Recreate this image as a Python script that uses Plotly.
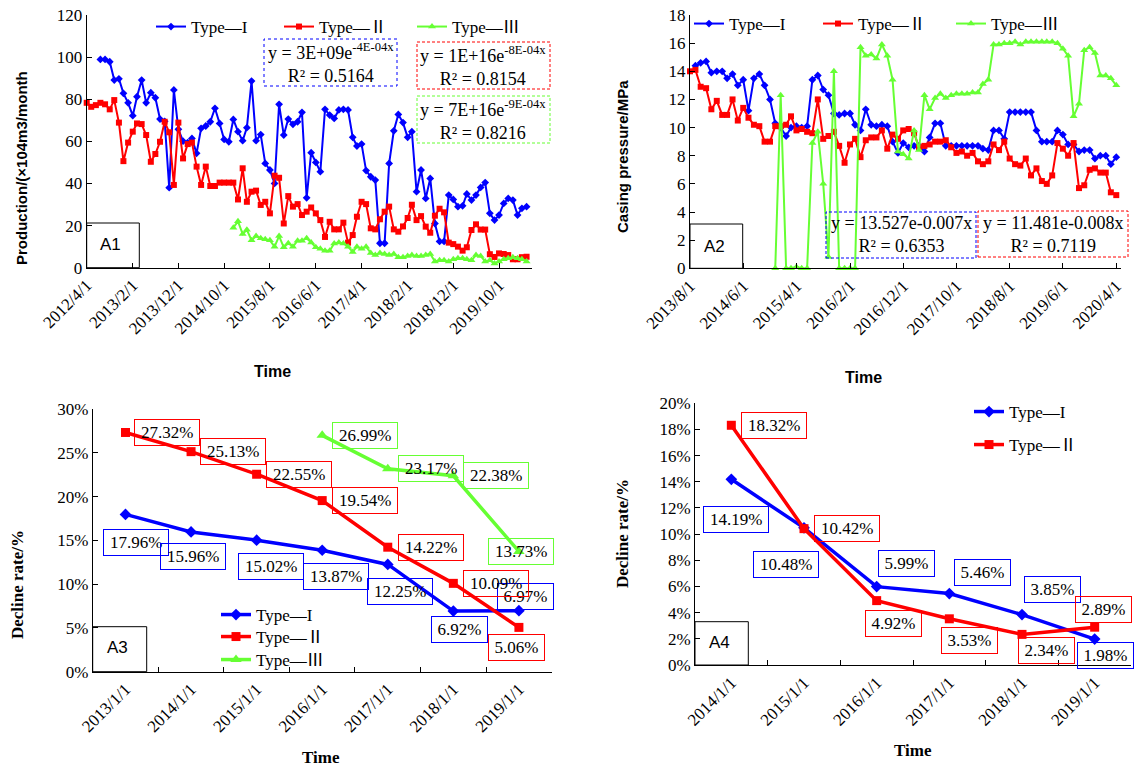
import pandas as pd
import plotly.graph_objects as go

BLUE = "#0000FF"
RED = "#FF0000"
GREEN = "#66FF33"
SERIF = "Liberation Serif, Times New Roman, Noto Sans CJK SC, serif"
SANS = "Liberation Sans, Arial, sans-serif"
W, H = 1136, 768

names = ["Type—I", "Type—Ⅱ", "Type—Ⅲ"]

# ---------------- A1: monthly production ----------------
a1_type1_start = "2012-07-01"
a1_type1 = [98.9, 98.9, 97.8, 89.1, 89.7, 82.8, 78.3, 72.2, 81.2, 89.1,
            78.3, 83.1, 80.7, 70.6, 69.5, 38.0, 84.4, 65.7, 60.1, 59.4,
            61.4, 54.3, 66.2, 67.3, 69.3, 75.7, 68.5, 60.9, 59.8, 70.4,
            64.6, 60.3, 66.5, 88.6, 60.3, 63.2, 49.5, 46.4, 40.0, 77.6,
            63.0, 70.6, 68.1, 69.3, 73.8, 33.2, 54.6, 50.0, 45.6, 75.2,
            72.5, 70.9, 74.9, 75.2, 74.9, 61.9, 57.8, 58.7, 46.1, 43.2,
            41.6, 11.6, 11.6, 49.5, 65.0, 72.8, 68.9, 61.9, 64.6, 36.1,
            46.4, 32.9, 42.4, 21.0, 12.5, 12.5, 34.5, 32.4, 29.0, 29.4,
            35.0, 32.1, 34.5, 38.1, 40.4, 25.8, 22.6, 25.0, 30.5, 32.9,
            32.1, 25.0, 28.2, 29.0]
a1_type2_start = "2012-04-01"
a1_type2 = [78.3, 76.4, 77.2, 78.3, 77.6, 75.2, 79.6, 68.9, 50.6, 59.4,
            64.6, 68.5, 68.2, 63.0, 50.3, 54.0, 59.8, 69.3, 64.3, 39.3,
            68.9, 51.9, 58.7, 59.4, 48.0, 39.3, 48.0, 38.8, 38.8, 40.4,
            40.4, 40.4, 40.4, 32.4, 47.2, 31.3, 36.1, 36.6, 29.8, 31.3,
            25.8, 43.7, 42.7, 21.0, 34.0, 29.0, 30.2, 25.0, 26.6, 28.6,
            25.8, 22.6, 14.6, 21.8, 18.2, 18.2, 21.4, 11.9, 15.5, 24.2,
            31.3, 30.2, 18.7, 18.2, 23.0, 26.6, 29.0, 18.2, 17.1, 19.6,
            23.6, 29.9, 22.6, 24.5, 19.5, 16.6, 24.7, 28.0, 26.3, 11.9,
            11.2, 10.0, 8.1, 9.7, 17.9, 20.6, 18.1, 18.1, 6.4, 5.1,
            6.8, 6.5, 6.0, 4.0, 4.0, 5.0, 5.2]
a1_type3_start = "2014-12-01"
a1_type3 = [19.0, 22.0, 16.0, 18.0, 13.0, 15.0, 14.0, 13.5, 13.0, 10.0,
            15.0, 9.7, 11.6, 10.0, 12.8, 12.8, 14.0, 12.0, 9.7, 9.0,
            8.0, 8.0, 11.5, 12.0, 11.5, 10.0, 7.5, 10.0, 9.0, 10.0,
            7.0, 6.0, 7.0, 6.5, 6.0, 6.5, 5.0, 5.0, 5.5, 6.0,
            5.5, 5.5, 6.0, 6.5, 3.0, 3.5, 3.5, 3.0, 4.0, 4.5,
            4.5, 4.0, 3.5, 6.0, 5.5, 3.0, 3.5, 2.0, 3.0, 4.0,
            4.5, 5.0, 4.5, 4.0, 3.0]
a1_tickvals = ["2012-04-01", "2013-02-01", "2013-12-01", "2014-10-01", "2015-08-01",
               "2016-06-01", "2017-04-01", "2018-02-01", "2018-12-01", "2019-10-01"]
a1_ticktext = ["2012/4/1", "2013/2/1", "2013/12/1", "2014/10/1", "2015/8/1",
               "2016/6/1", "2017/4/1", "2018/2/1", "2018/12/1", "2019/10/1"]
a1_range = ["2012-04-01", "2020-05-07"]
a1_fits = ["y = 3E+09e<sup>-4E-04x</sup><br>R² = 0.5164",
           "y = 1E+16e<sup>-8E-04x</sup><br>R² = 0.8154",
           "y = 7E+16e<sup>-9E-04x</sup><br>R² = 0.8216"]

# ---------------- A2: monthly casing pressure ----------------
a2_type1_start = "2013-09-01"
a2_type1 = [14.4, 14.6, 14.7, 13.9, 14.0, 14.0, 13.5, 13.8, 13.0, 13.4,
            11.2, 13.5, 13.8, 13.0, 12.0, 10.3, 10.0, 9.4, 10.0, 10.1,
            10.0, 10.1, 13.4, 13.7, 12.7, 12.3, 11.0, 10.9, 11.0, 11.0,
            10.2, 9.8, 11.3, 10.2, 10.1, 10.2, 10.1, 9.0, 8.2, 8.9,
            8.6, 8.7, 8.7, 8.3, 9.3, 10.3, 10.3, 8.7, 8.7, 8.7,
            8.7, 8.7, 8.7, 8.7, 8.5, 8.4, 9.8, 9.8, 9.2, 11.1,
            11.1, 11.1, 11.1, 11.1, 9.8, 9.0, 9.0, 9.0, 9.8, 9.5,
            8.8, 8.8, 8.3, 8.4, 8.4, 7.8, 8.0, 8.0, 7.4, 7.9]
a2_type2_start = "2013-08-01"
a2_type2 = [14.0, 14.1, 12.9, 12.8, 11.3, 11.9, 10.9, 10.9, 12.0, 10.5,
            11.4, 10.7, 10.2, 10.1, 9.0, 9.0, 10.1, 10.1, 10.2, 10.8,
            9.8, 9.9, 9.7, 9.6, 12.0, 9.2, 9.4, 9.7, 8.7, 7.5,
            8.8, 9.2, 7.9, 9.1, 9.3, 9.3, 9.8, 8.5, 9.5, 9.2,
            9.8, 9.9, 9.6, 8.6, 8.7, 8.8, 9.0, 9.0, 9.1, 8.6,
            8.2, 8.3, 8.0, 8.2, 7.6, 7.4, 7.6, 8.8, 8.4, 9.0,
            7.8, 7.4, 7.3, 7.8, 6.6, 7.1, 6.2, 6.0, 6.6, 8.9,
            8.5, 8.0, 8.9, 5.7, 5.9, 7.0, 7.1, 6.8, 6.8, 5.4,
            5.2]
a2_type3_start = "2014-12-01"
a2_type3 = [0.0, 12.3, 0.0, 0.0, 0.1, 0.0, 0.0, 8.9, 9.7, 6.0,
            0.8, 14.0, 0.0, 0.0, 0.0, 0.0, 15.7, 15.1, 15.2, 14.9,
            15.9, 15.1, 13.4, 8.3, 8.1, 7.8, 9.8, 8.4, 12.3, 11.3,
            12.1, 12.4, 12.1, 12.3, 12.4, 12.4, 12.4, 12.5, 12.5, 13.1,
            13.4, 15.9, 15.9, 16.0, 16.0, 16.1, 15.9, 16.1, 16.1, 16.1,
            16.1, 16.1, 16.1, 16.0, 15.6, 15.1, 10.8, 11.7, 15.5, 15.7,
            15.3, 13.7, 13.7, 13.5, 13.0]
a2_tickvals = ["2013-08-01", "2014-06-01", "2015-04-01", "2016-02-01", "2016-12-01",
               "2017-10-01", "2018-08-01", "2019-06-01", "2020-04-01"]
a2_ticktext = ["2013/8/1", "2014/6/1", "2015/4/1", "2016/2/1", "2016/12/1",
               "2017/10/1", "2018/8/1", "2019/6/1", "2020/4/1"]
a2_range = ["2013-08-01", "2020-04-28"]
a2_fits = ["y = 13.527e-0.007x<br>R² = 0.6353",
           "y = 11.481e-0.008x<br>R² = 0.7119"]

# ---------------- A3: annual decline rate (%) ----------------
a3_cats = ["2013/1/1", "2014/1/1", "2015/1/1", "2016/1/1", "2017/1/1", "2018/1/1", "2019/1/1"]
a3_type1 = [17.96, 15.96, 15.02, 13.87, 12.25, 6.92, 6.97]
a3_type2 = [27.32, 25.13, 22.55, 19.54, 14.22, 10.09, 5.06]
a3_type3_cats = ["2016/1/1", "2017/1/1", "2018/1/1", "2019/1/1"]
a3_type3 = [26.99, 23.17, 22.38, 13.73]

# ---------------- A4: annual decline rate (%) ----------------
a4_cats = ["2014/1/1", "2015/1/1", "2016/1/1", "2017/1/1", "2018/1/1", "2019/1/1"]
a4_type1 = [14.19, 10.48, 5.99, 5.46, 3.85, 1.98]
a4_type2 = [18.32, 10.42, 4.92, 3.53, 2.34, 2.89]

# label placement offsets (dx right, dy down) in px -- styling only
a3_off1 = [(11, 28), (2, 25), (14, 26), (14, 26), (12, 27), (6, 18), (7, -14)]
a3_off2 = [(42, 0), (42, 0), (42, 0), (43, 0), (43, 0), (43, 0), (-2, 20)]
a3_off3 = [(43, 0), (43, 0), (43, 0), (2, 0)]
a4_off1 = [(5, 40), (-18, 37), (30, -23), (33, -21), (30, -25), (11, 16)]
a4_off2 = [(43, 0), (43, 0), (17, 23), (20, 22), (24, 16), (9, -18)]


def px(x):
    return x / W


def py(y):
    return 1 - y / H


def monthly(start, vals):
    return pd.date_range(start, periods=len(vals), freq="MS")


fig = go.Figure()

style = {
    0: dict(color=BLUE, symbol="diamond"),
    1: dict(color=RED, symbol="square"),
    2: dict(color=GREEN, symbol="triangle-up"),
}


def add_series(x, y, k, ax, leg, lw, ms):
    fig.add_trace(go.Scatter(
        x=x, y=y, mode="lines+markers", name=names[k],
        line=dict(color=style[k]["color"], width=lw),
        marker=dict(symbol=style[k]["symbol"], size=ms, color=style[k]["color"]),
        xaxis="x" + ax, yaxis="y" + ax, legend=leg, cliponaxis=False,
        showlegend=True))


# A1
add_series(monthly(a1_type1_start, a1_type1), a1_type1, 0, "", "legend", 2, 6)
add_series(monthly(a1_type2_start, a1_type2), a1_type2, 1, "", "legend2", 2, 6)
add_series(monthly(a1_type3_start, a1_type3), a1_type3, 2, "", "legend3", 2, 7)
# A2
add_series(monthly(a2_type1_start, a2_type1), a2_type1, 0, "2", "legend4", 2, 6)
add_series(monthly(a2_type2_start, a2_type2), a2_type2, 1, "2", "legend5", 2, 6)
add_series(monthly(a2_type3_start, a2_type3), a2_type3, 2, "2", "legend6", 2, 7)
# A3
add_series(a3_cats, a3_type1, 0, "3", "legend7", 3.5, 9)
add_series(a3_cats, a3_type2, 1, "3", "legend8", 3.5, 9)
add_series(a3_type3_cats, a3_type3, 2, "3", "legend9", 3.5, 10)
# A4
add_series(a4_cats, a4_type1, 0, "4", "legend10", 3.5, 9)
add_series(a4_cats, a4_type2, 1, "4", "legend11", 3.5, 9)

tickfont = dict(family=SERIF, size=17, color="black")
common = dict(showline=True, linecolor="black", linewidth=1, ticks="inside", ticklen=5,
              tickcolor="black", tickwidth=1, showgrid=False, zeroline=False,
              tickfont=tickfont, fixedrange=True, automargin=False)

layout = dict(
    template="none",
    width=W, height=H, autosize=False,
    margin=dict(l=0, r=0, t=0, b=0, pad=0),
    paper_bgcolor="white", plot_bgcolor="white",
    xaxis=dict(domain=[px(86.7), px(532)], anchor="y", type="date", range=a1_range,
               tickvals=a1_tickvals, ticktext=a1_ticktext, tickangle=-45, **common),
    yaxis=dict(domain=[py(267.7), py(15)], anchor="x", range=[0, 120], dtick=20, **common),
    xaxis2=dict(domain=[px(690), px(1121)], anchor="y2", type="date", range=a2_range,
                tickvals=a2_tickvals, ticktext=a2_ticktext, tickangle=-45, **common),
    yaxis2=dict(domain=[py(268.3), py(15)], anchor="x2", range=[0, 18], dtick=2, **common),
    xaxis3=dict(domain=[px(92.7), px(551.7)], anchor="y3", type="category",
                categoryorder="array", categoryarray=a3_cats, range=[-0.5, 6.5],
                tickson="boundaries", tickangle=-45, **common),
    yaxis3=dict(domain=[py(671.7), py(409)], anchor="x3", range=[0, 30], dtick=5,
                ticksuffix="%", **common),
    xaxis4=dict(domain=[px(695), px(1131)], anchor="y4", type="category",
                categoryorder="array", categoryarray=a4_cats, range=[-0.5, 5.5],
                tickson="boundaries", tickangle=-45, **common),
    yaxis4=dict(domain=[py(665), py(403.3)], anchor="x4", range=[0, 20], dtick=2,
                ticksuffix="%", **common),
)


def leg(x, y):
    return dict(x=px(x), y=py(y), xanchor="left", yanchor="middle",
                bgcolor="rgba(0,0,0,0)", borderwidth=0, orientation="v",
                font=dict(family=SERIF, size=17, color="black"))


layout["legend"] = leg(151, 27)
layout["legend2"] = leg(279, 27)
layout["legend3"] = leg(412, 27)
layout["legend4"] = leg(689, 24)
layout["legend5"] = leg(818, 24)
layout["legend6"] = leg(951, 24)
layout["legend7"] = leg(216, 615)
layout["legend8"] = leg(216, 637)
layout["legend9"] = leg(216, 660)
layout["legend10"] = leg(969, 412)
layout["legend11"] = leg(969, 445)

fig.update_layout(**layout)

annotations = []
shapes = []


def text_ann(x, y, text, size, family, angle=0, bold=False):
    annotations.append(dict(
        xref="paper", yref="paper", x=px(x), y=py(y), xanchor="center", yanchor="middle",
        text=("<b>%s</b>" % text) if bold else text, showarrow=False, textangle=angle,
        font=dict(family=family, size=size, color="black")))


def rect(x0, y0, x1, y1, color, dash="solid"):
    shapes.append(dict(type="rect", xref="paper", yref="paper",
                       x0=px(x0), x1=px(x1), y0=py(y1), y1=py(y0),
                       line=dict(color=color, width=1, dash=dash), fillcolor="rgba(0,0,0,0)"))


# axis titles
text_ann(21, 168, "Production/(×104m3/month", 15, SANS, -90, True)
text_ann(272, 371, "Time", 16, SANS, 0, True)
text_ann(622, 157, "Casing pressure/MPa", 15, SANS, -90, True)
text_ann(863, 377, "Time", 16, SANS, 0, True)
text_ann(17, 585, "Decline rate/%", 17, SERIF, -90, True)
text_ann(321, 757, "Time", 17, SERIF, 0, True)
text_ann(622, 534, "Decline rate/%", 17, SERIF, -90, True)
text_ann(913, 750, "Time", 17, SERIF, 0, True)

# panel tags
for (x0, y0, x1, y1, tx, ty, t) in [(86.7, 223, 139.3, 267.7, 110.5, 244.5, "A1"),
                                     (690, 224, 742.7, 268.3, 714, 246, "A2"),
                                     (92.7, 626.7, 146.7, 671.7, 117.5, 647.5, "A3"),
                                     (695, 621.7, 748.3, 665, 719, 642.5, "A4")]:
    rect(x0, y0, x1, y1, "black")
    text_ann(tx, ty, t, 17, SANS)

# fit equation boxes
rect(264, 39, 397, 86, BLUE, "dot")
text_ann(330.5, 62.5, a1_fits[0], 18, SERIF)
rect(417, 42, 550, 89, RED, "3px,2px")
text_ann(483.5, 65.5, a1_fits[1], 18, SERIF)
rect(417, 96, 550, 143, GREEN, "3px,2px")
text_ann(483.5, 119.5, a1_fits[2], 18, SERIF)
rect(826, 212, 976, 258, BLUE, "3px,2px")
text_ann(901, 235, a2_fits[0], 18, SERIF)
rect(978, 211, 1128, 257, RED, "3px,2px")
text_ann(1053, 234, a2_fits[1], 18, SERIF)


def value_labels(cats, vals, offs, color, ax):
    for c, v, (dx, dy) in zip(cats, vals, offs):
        t = "%.2f%%" % v
        annotations.append(dict(
            xref="x" + ax, yref="y" + ax, x=c, y=v, xshift=dx, yshift=-dy,
            xanchor="center", yanchor="middle", text=t, showarrow=False,
            width=9.2 * len(t) + 5, height=21, borderpad=2, borderwidth=1,
            bordercolor=color, bgcolor="rgba(0,0,0,0)",
            font=dict(family=SERIF, size=17, color="black")))


value_labels(a3_cats, a3_type1, a3_off1, BLUE, "3")
value_labels(a3_cats, a3_type2, a3_off2, RED, "3")
value_labels(a3_type3_cats, a3_type3, a3_off3, GREEN, "3")
value_labels(a4_cats, a4_type1, a4_off1, BLUE, "4")
value_labels(a4_cats, a4_type2, a4_off2, RED, "4")

fig.update_layout(annotations=annotations, shapes=shapes)
fig.write_html("out.html")
